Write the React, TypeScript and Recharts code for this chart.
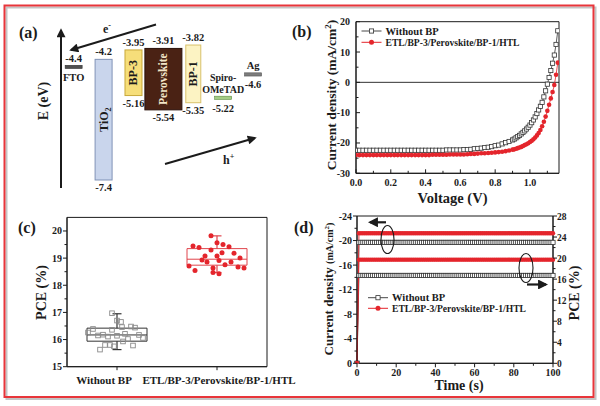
import React from "react";
import {
  ComposedChart,
  Bar,
  Line,
  Scatter,
  XAxis,
  YAxis,
  ReferenceArea,
  ReferenceLine,
} from "recharts";

const FONT = '"Liberation Serif", "Times New Roman", serif';
const INK = "#1b1b1b";
const RED = "#e4252c";
const GREY = "#333";

// (a) band alignment (eV)
const layers = ["FTO", "TiO2", "BP-3", "Perovskite", "BP-1", "Spiro-OMeTAD", "Ag"];
const cbEnergy = [null, -4.2, -3.95, -3.91, -3.82, null, null];
const vbEnergy = [null, -7.4, -5.16, -5.54, -5.35, null, null];
const workEnergy = [-4.4, null, null, null, null, -5.22, -4.6];

// (b) J-V curves
const voltage = [
  0, 0.02, 0.04, 0.06, 0.08, 0.1, 0.12, 0.14, 0.16, 0.18,
  0.2, 0.22, 0.24, 0.26, 0.28, 0.3, 0.32, 0.34, 0.36, 0.38,
  0.4, 0.42, 0.44, 0.46, 0.48, 0.5, 0.52, 0.54, 0.56, 0.58,
  0.6, 0.62, 0.64, 0.66, 0.68, 0.7, 0.72, 0.74, 0.76, 0.78,
  0.8, 0.82, 0.84, 0.86, 0.88, 0.9,
  0.91, 0.92, 0.93, 0.94, 0.95, 0.96, 0.97, 0.98, 0.99, 1.0,
  1.01, 1.02, 1.03, 1.04, 1.05, 1.06, 1.07, 1.08, 1.09, 1.1,
  1.11, 1.12, 1.13, 1.14, 1.15, 1.16,
];
const jvWithoutBp = [
  -22.4, -22.4, -22.4, -22.4, -22.4, -22.4, -22.4, -22.4, -22.4, -22.4,
  -22.4, -22.4, -22.4, -22.4, -22.4, -22.4, -22.4, -22.4, -22.4, -22.4,
  -22.4, -22.4, -22.4, -22.4, -22.4, -22.4, -22.3, -22.3, -22.3, -22.3,
  -22.3, -22.2, -22.2, -22.1, -21.9, -21.8, -21.7, -21.5, -21.4, -21.2,
  -20.9, -20.7, -20.3, -19.9, -19.5, -19.0,
  -18.7, -18.3, -17.9, -17.5, -17.0, -16.5, -16.0, -15.4, -14.8, -14.1,
  -13.3, -12.4, -11.4, -10.3, -9.1, -7.9, -6.6, -4.8, -2.8, -0.6,
  1.6, 3.9, 6.3, 9.0, 12.5, 17.0,
];
const jvWithBp = [
  -24.0, -24.0, -24.0, -24.0, -24.0, -24.0, -24.0, -24.0, -24.0, -24.0,
  -24.0, -24.0, -24.0, -24.0, -24.0, -24.0, -24.0, -24.0, -24.0, -24.0,
  -24.0, -24.0, -23.9, -23.9, -23.9, -23.9, -23.9, -23.8, -23.8, -23.8,
  -23.8, -23.8, -23.7, -23.6, -23.6, -23.5, -23.4, -23.4, -23.3, -23.2,
  -23.1, -23.0, -22.9, -22.7, -22.5, -22.2,
  -22.1, -21.9, -21.7, -21.5, -21.3, -21.0, -20.7, -20.4, -20.1, -19.7,
  -19.3, -18.8, -18.2, -17.5, -16.7, -15.7, -14.5, -13.0, -11.3, -9.4,
  -7.4, -5.3, -3.2, -0.9, 2.5, 6.5,
];

// (c) PCE statistics (x = group position incl. jitter)
const withoutBpX = [0.95, 1.0, 1.04, 1.05, 1.14, 1.18, 0.71, 0.76, 0.81, 0.86, 0.91, 0.95, 1.0, 1.08, 1.22, 1.26, 1.06, 1.11, 0.88, 0.93, 0.97, 1.16, 0.83];
const withoutBpPce = [16.97, 16.7, 16.65, 16.46, 16.48, 16.44, 16.26, 16.39, 16.15, 16.18, 16.11, 16.36, 16.14, 16.21, 16.17, 16.06, 15.93, 16.02, 15.8, 15.8, 15.75, 15.78, 15.63];
const withBpX = [1.94, 1.76, 1.82, 2.0, 2.06, 2.12, 1.94, 2.17, 1.88, 2.0, 2.05, 1.85, 1.9, 2.02, 2.14, 2.23, 2.08, 1.72, 1.78, 1.96, 2.21, 2.27, 1.96, 2.02];
const withBpPce = [19.82, 19.45, 19.39, 19.57, 19.5, 19.42, 19.3, 19.18, 19.08, 19.08, 19.2, 18.93, 18.86, 18.91, 18.86, 19.0, 18.76, 18.71, 18.54, 18.64, 18.67, 18.64, 18.47, 18.42];
const groupNames = ["Without BP", "ETL/BP-3/Perovskite/BP-1/HTL"];
const groupPos = [1, 2];
const boxQ1 = [15.94, 18.74];
const boxMedian = [16.17, 18.96];
const boxQ3 = [16.42, 19.35];
const whiskerLow = [15.63, 18.47];
const whiskerHigh = [16.95, 19.82];

// (d) steady-state output
const timeS = [
  0, 1, 2, 3, 4, 5, 6, 7, 8, 9, 10, 11, 12, 13, 14, 15, 16, 17, 18, 19, 20,
  21, 22, 23, 24, 25, 26, 27, 28, 29, 30, 31, 32, 33, 34, 35, 36, 37, 38, 39, 40,
  41, 42, 43, 44, 45, 46, 47, 48, 49, 50, 51, 52, 53, 54, 55, 56, 57, 58, 59, 60,
  61, 62, 63, 64, 65, 66, 67, 68, 69, 70, 71, 72, 73, 74, 75, 76, 77, 78, 79, 80,
  81, 82, 83, 84, 85, 86, 87, 88, 89, 90, 91, 92, 93, 94, 95, 96, 97, 98, 99, 100,
];
const jWithoutBp = [
  0, -19.7, -19.7, -19.7, -19.7, -19.7, -19.7, -19.7, -19.7, -19.7, -19.7, -19.7, -19.7, -19.7, -19.7, -19.7, -19.7, -19.7, -19.7, -19.7, -19.7,
  -19.7, -19.7, -19.7, -19.7, -19.7, -19.7, -19.7, -19.7, -19.7, -19.7, -19.7, -19.7, -19.7, -19.7, -19.7, -19.7, -19.7, -19.7, -19.7, -19.7,
  -19.7, -19.7, -19.7, -19.7, -19.7, -19.7, -19.7, -19.7, -19.7, -19.7, -19.7, -19.7, -19.7, -19.7, -19.7, -19.7, -19.7, -19.7, -19.7, -19.7,
  -19.7, -19.7, -19.7, -19.7, -19.7, -19.7, -19.7, -19.7, -19.7, -19.7, -19.7, -19.7, -19.7, -19.7, -19.7, -19.7, -19.7, -19.7, -19.7, -19.7,
  -19.7, -19.7, -19.7, -19.7, -19.7, -19.7, -19.7, -19.7, -19.7, -19.7, -19.7, -19.7, -19.7, -19.7, -19.7, -19.7, -19.7, -19.7, -19.7, -19.7,
];
const jWithBp = [
  0, -21.2, -21.2, -21.2, -21.2, -21.2, -21.2, -21.2, -21.2, -21.2, -21.2, -21.2, -21.2, -21.2, -21.2, -21.2, -21.2, -21.2, -21.2, -21.2, -21.2,
  -21.2, -21.2, -21.2, -21.2, -21.2, -21.2, -21.2, -21.2, -21.2, -21.2, -21.2, -21.2, -21.2, -21.2, -21.2, -21.2, -21.2, -21.2, -21.2, -21.2,
  -21.2, -21.2, -21.2, -21.2, -21.2, -21.2, -21.2, -21.2, -21.2, -21.2, -21.2, -21.2, -21.2, -21.2, -21.2, -21.2, -21.2, -21.2, -21.2, -21.2,
  -21.2, -21.2, -21.2, -21.2, -21.2, -21.2, -21.2, -21.2, -21.2, -21.2, -21.2, -21.2, -21.2, -21.2, -21.2, -21.2, -21.2, -21.2, -21.2, -21.2,
  -21.2, -21.2, -21.2, -21.2, -21.2, -21.2, -21.2, -21.2, -21.2, -21.2, -21.2, -21.2, -21.2, -21.2, -21.2, -21.2, -21.2, -21.2, -21.2, -21.2,
];
const pceWithoutBp = [
  0, 16.7, 16.7, 16.7, 16.7, 16.7, 16.7, 16.7, 16.7, 16.7, 16.7, 16.7, 16.7, 16.7, 16.7, 16.7, 16.7, 16.7, 16.7, 16.7, 16.7,
  16.7, 16.7, 16.7, 16.7, 16.7, 16.7, 16.7, 16.7, 16.7, 16.7, 16.7, 16.7, 16.7, 16.7, 16.7, 16.7, 16.7, 16.7, 16.7, 16.7,
  16.7, 16.7, 16.7, 16.7, 16.7, 16.7, 16.7, 16.7, 16.7, 16.7, 16.7, 16.7, 16.7, 16.7, 16.7, 16.7, 16.7, 16.7, 16.7, 16.7,
  16.7, 16.7, 16.7, 16.7, 16.7, 16.7, 16.7, 16.7, 16.7, 16.7, 16.7, 16.7, 16.7, 16.7, 16.7, 16.7, 16.7, 16.7, 16.7, 16.7,
  16.7, 16.7, 16.7, 16.7, 16.7, 16.7, 16.7, 16.7, 16.7, 16.7, 16.7, 16.7, 16.7, 16.7, 16.7, 16.7, 16.7, 16.7, 16.7, 16.7,
];
const pceWithBp = [
  0, 19.7, 19.7, 19.7, 19.7, 19.7, 19.7, 19.7, 19.7, 19.7, 19.7, 19.7, 19.7, 19.7, 19.7, 19.7, 19.7, 19.7, 19.7, 19.7, 19.7,
  19.7, 19.7, 19.7, 19.7, 19.7, 19.7, 19.7, 19.7, 19.7, 19.7, 19.7, 19.7, 19.7, 19.7, 19.7, 19.7, 19.7, 19.7, 19.7, 19.7,
  19.7, 19.7, 19.7, 19.7, 19.7, 19.7, 19.7, 19.7, 19.7, 19.7, 19.7, 19.7, 19.7, 19.7, 19.7, 19.7, 19.7, 19.7, 19.7, 19.7,
  19.7, 19.7, 19.7, 19.7, 19.7, 19.7, 19.7, 19.7, 19.7, 19.7, 19.7, 19.7, 19.7, 19.7, 19.7, 19.7, 19.7, 19.7, 19.7, 19.7,
  19.7, 19.7, 19.7, 19.7, 19.7, 19.7, 19.7, 19.7, 19.7, 19.7, 19.7, 19.7, 19.7, 19.7, 19.7, 19.7, 19.7, 19.7, 19.7, 19.7,
];

const bold = { fontFamily: FONT, fontWeight: 700, fill: INK } as const;
const tickFont = { ...bold, fontSize: 10 };

// looks for the band blocks / level bars of panel (a)
const bandStyle: Record<string, { w: number; fill: string; stroke: string; text: string }> = {
  TiO2: { w: 17, fill: "#c9d5ec", stroke: "#8093b6", text: INK },
  "BP-3": { w: 17, fill: "#f6de7a", stroke: "#c8a83a", text: INK },
  Perovskite: { w: 37, fill: "#4a2214", stroke: "#2a110a", text: "#f3e6c9" },
  "BP-1": { w: 15, fill: "#fcf3c3", stroke: "#d8c16b", text: INK },
};
const levelStyle: Record<string, { w: number; fill: string; stroke: string; above: string[]; below: string[] }> = {
  FTO: { w: 17, fill: "#505050", stroke: "#333", above: ["$v"], below: ["FTO"] },
  "Spiro-OMeTAD": { w: 17, fill: "#a3cc86", stroke: "#5e8c44", above: ["Spiro-", "OMeTAD"], below: ["$v"] },
  Ag: { w: 17, fill: "#7c7c7c", stroke: "#555", above: ["Ag"], below: ["$v"] },
};

const bandData = layers.map((name, i) => ({
  name,
  cb: cbEnergy[i],
  vb: vbEnergy[i],
  band: cbEnergy[i] == null ? null : [vbEnergy[i], cbEnergy[i]],
  level: workEnergy[i],
}));

const jvData = voltage.map((v, i) => ({ v, without: jvWithoutBp[i], withBp: jvWithBp[i] }));
const pceWithoutPts = withoutBpX.map((x, i) => ({ x, pce: withoutBpPce[i] }));
const pceWithPts = withBpX.map((x, i) => ({ x, pce: withBpPce[i] }));
const stabilityData = timeS.map((t, i) => ({
  t,
  jWithout: jWithoutBp[i],
  jWith: jWithBp[i],
  pWithout: pceWithoutBp[i],
  pWith: pceWithBp[i],
}));

function BandShape(p: any) {
  const { x, y, width, height, payload } = p;
  const st = bandStyle[payload?.name];
  if (!st || payload.band == null) return <g />;
  const cx = x + width / 2;
  const top = Math.min(y, y + height);
  const h = Math.abs(height);
  return (
    <g>
      <rect x={cx - st.w / 2} y={top} width={st.w} height={h} fill={st.fill} stroke={st.stroke} strokeWidth={1} />
      <text x={cx} y={top - 4} textAnchor="middle" style={{ ...bold, fontSize: 10.5 }}>{String(payload.cb)}</text>
      <text x={cx} y={top + h + 11} textAnchor="middle" style={{ ...bold, fontSize: 10.5 }}>{String(payload.vb)}</text>
      <text
        transform={`translate(${cx + 4},${top + h / 2}) rotate(-90)`}
        textAnchor="middle"
        style={{ ...bold, fill: st.text, fontSize: payload.name === "Perovskite" ? 11.5 : 12 }}
      >
        {payload.name === "TiO2" ? (
          <>
            TiO<tspan fontSize={8} dy={3}>2</tspan>
          </>
        ) : (
          payload.name
        )}
      </text>
    </g>
  );
}

function LevelDot(p: any) {
  const { cx, cy, payload, index } = p;
  const st = levelStyle[payload?.name];
  if (!st || payload.level == null || cy == null) return <g key={`lv-${index}`} />;
  const txt = (s: string) => (s === "$v" ? String(payload.level) : s);
  const small = payload.name === "Spiro-OMeTAD" ? 10 : 10.5;
  return (
    <g key={`lv-${index}`}>
      <rect x={cx - st.w / 2} y={cy - 1.6} width={st.w} height={3.2} fill={st.fill} stroke={st.stroke} strokeWidth={0.6} />
      {st.above.map((s, k) => (
        <text key={`a${k}`} x={cx} y={cy - 5 - (st.above.length - 1 - k) * 12} textAnchor="middle" style={{ ...bold, fontSize: small }}>
          {txt(s)}
        </text>
      ))}
      {st.below.map((s, k) => (
        <text key={`b${k}`} x={cx} y={cy + 14 + k * 12} textAnchor="middle" style={{ ...bold, fontSize: 10.5 }}>
          {txt(s)}
        </text>
      ))}
    </g>
  );
}

type TickOpts = { labelled: (v: number) => boolean; fmt: (v: number) => string; inward?: boolean };

const bottomTick = (o: TickOpts) => (p: any) => {
  const v = p.payload.value;
  const major = o.labelled(v);
  const len = major ? 4 : 2.5;
  return (
    <g>
      <line x1={p.x} x2={p.x} y1={p.y} y2={p.y + (o.inward ? -len : len)} stroke={INK} />
      {major && (
        <text x={p.x} y={p.y + 13} textAnchor="middle" style={tickFont}>
          {o.fmt(v)}
        </text>
      )}
    </g>
  );
};

const leftTick = (o: TickOpts) => (p: any) => {
  const v = p.payload.value;
  const major = o.labelled(v);
  const len = major ? 4 : 2.5;
  return (
    <g>
      <line x1={p.x} x2={p.x + (o.inward ? len : -len)} y1={p.y} y2={p.y} stroke={INK} />
      {major && (
        <text x={p.x - (o.inward ? 6 : 5)} y={p.y + 3.5} textAnchor="end" style={tickFont}>
          {o.fmt(v)}
        </text>
      )}
    </g>
  );
};

const rightTick = (o: TickOpts) => (p: any) => {
  const v = p.payload.value;
  const major = o.labelled(v);
  const len = major ? 4 : 2.5;
  return (
    <g>
      <line x1={p.x} x2={p.x + len} y1={p.y} y2={p.y} stroke={INK} />
      {major && (
        <text x={p.x + 4} y={p.y + 3.5} textAnchor="start" style={{ ...tickFont, fontSize: 9.5 }}>
          {o.fmt(v)}
        </text>
      )}
    </g>
  );
};

const groupTick = (p: any) => {
  const i = groupPos.indexOf(p.payload.value);
  const dx = i === 0 ? -13 : 2;
  return (
    <g>
      <line x1={p.x} x2={p.x} y1={p.y} y2={p.y + 3.5} stroke={INK} />
      <text x={p.x + dx} y={p.y + 17} textAnchor="middle" style={{ ...bold, fontSize: 11 }}>
        {groupNames[i]}
      </text>
    </g>
  );
};

const squareDot = (stroke: string) => (p: any) =>
  p.cx == null || p.cy == null ? (
    <g key={`s-${p.index}`} />
  ) : (
    <rect key={`s-${p.index}`} x={p.cx - 2.1} y={p.cy - 2.1} width={4.2} height={4.2} fill="#fff" stroke={stroke} strokeWidth={0.8} />
  );

const roundDot = (fill: string, r: number) => (p: any) =>
  p.cx == null || p.cy == null ? <g key={`c-${p.index}`} /> : <circle key={`c-${p.index}`} cx={p.cx} cy={p.cy} r={r} fill={fill} />;

function EnergyPanel() {
  return (
    <ComposedChart width={300} height={200} data={bandData} margin={{ top: 29.2, right: 32, bottom: 8.7, left: 58.7 }}>
      <XAxis dataKey="name" type="category" hide />
      <YAxis type="number" domain={[-7.7, -3.4]} allowDataOverflow hide />
      <Bar dataKey="band" shape={BandShape} isAnimationActive={false} />
      <Line dataKey="level" stroke="none" dot={LevelDot} activeDot={false} isAnimationActive={false} />
    </ComposedChart>
  );
}

function JVPanel() {
  return (
    <ComposedChart width={300} height={200} data={jvData} margin={{ top: 21.7, right: 41, bottom: 0, left: 16 }}>
      <XAxis
        dataKey="v"
        type="number"
        domain={[0, 1.167]}
        allowDataOverflow
        ticks={[0, 0.1, 0.2, 0.3, 0.4, 0.5, 0.6, 0.7, 0.8, 0.9, 1.0, 1.1]}
        interval={0}
        height={26.7}
        tickSize={0}
        tickMargin={0}
        tickLine={false}
        axisLine={{ stroke: INK }}
        tick={bottomTick({ labelled: (v) => Math.round(v * 10) % 2 === 0, fmt: (v) => v.toFixed(1), inward: true })}
      />
      <YAxis
        type="number"
        domain={[-30, 20]}
        allowDataOverflow
        ticks={[-30, -25, -20, -15, -10, -5, 0, 5, 10, 15, 20]}
        interval={0}
        width={40}
        tickSize={0}
        tickMargin={0}
        tickLine={false}
        axisLine={{ stroke: INK }}
        tick={leftTick({ labelled: (v) => v % 10 === 0, fmt: (v) => String(v), inward: true })}
      />
      <ReferenceArea x1={0} x2={1.167} y1={-30} y2={20} fill="none" stroke={INK} strokeWidth={1} />
      <ReferenceLine y={0} stroke={INK} strokeWidth={0.9} />
      <Line dataKey="without" stroke={GREY} strokeWidth={0.8} dot={squareDot(GREY)} activeDot={false} isAnimationActive={false} />
      <Line dataKey="withBp" stroke={RED} strokeWidth={0.8} dot={roundDot(RED, 2.3)} activeDot={false} isAnimationActive={false} />
    </ComposedChart>
  );
}

function BoxPanel() {
  const halfW = 0.3;
  const cap = 0.045;
  const boxColor = [GREY, "#e0444c"];
  return (
    <ComposedChart width={300} height={206} margin={{ top: 17.4, right: 33, bottom: 9.3, left: 30 }}>
      <XAxis
        dataKey="x"
        type="number"
        domain={[0.5, 2.5]}
        allowDataOverflow
        ticks={groupPos}
        interval={0}
        height={30}
        tickSize={0}
        tickMargin={0}
        tickLine={false}
        axisLine={{ stroke: INK }}
        tick={groupTick}
      />
      <YAxis
        dataKey="pce"
        type="number"
        domain={[15, 20.5]}
        allowDataOverflow
        ticks={[15, 15.5, 16, 16.5, 17, 17.5, 18, 18.5, 19, 19.5, 20]}
        interval={0}
        width={37}
        tickSize={0}
        tickMargin={0}
        tickLine={false}
        axisLine={{ stroke: INK }}
        tick={leftTick({ labelled: (v) => Number.isInteger(v), fmt: (v) => String(v) })}
      />
      <ReferenceArea x1={0.5} x2={2.5} y1={15} y2={20.5} fill="none" stroke={INK} strokeWidth={1} />
      {groupPos.map((g, i) => (
        <ReferenceArea key={`box${i}`} x1={g - halfW} x2={g + halfW} y1={boxQ1[i]} y2={boxQ3[i]} fill="none" stroke={boxColor[i]} strokeWidth={1} ifOverflow="visible" />
      ))}
      {groupPos.map((g, i) => (
        <ReferenceLine key={`med${i}`} segment={[{ x: g - halfW, y: boxMedian[i] }, { x: g + halfW, y: boxMedian[i] }]} stroke={boxColor[i]} strokeWidth={1} />
      ))}
      {groupPos.map((g, i) => (
        <ReferenceLine key={`wh${i}`} segment={[{ x: g, y: boxQ3[i] }, { x: g, y: whiskerHigh[i] }]} stroke={boxColor[i]} strokeWidth={1.2} />
      ))}
      {groupPos.map((g, i) => (
        <ReferenceLine key={`wl${i}`} segment={[{ x: g, y: boxQ1[i] }, { x: g, y: whiskerLow[i] }]} stroke={boxColor[i]} strokeWidth={1.2} />
      ))}
      {groupPos.map((g, i) => (
        <ReferenceLine key={`ch${i}`} segment={[{ x: g - cap, y: whiskerHigh[i] }, { x: g + cap, y: whiskerHigh[i] }]} stroke={boxColor[i]} strokeWidth={1.2} />
      ))}
      {groupPos.map((g, i) => (
        <ReferenceLine key={`cl${i}`} segment={[{ x: g - cap, y: whiskerLow[i] }, { x: g + cap, y: whiskerLow[i] }]} stroke={boxColor[i]} strokeWidth={1.2} />
      ))}
      <Scatter
        data={pceWithoutPts}
        isAnimationActive={false}
        shape={(p: any) => <rect x={p.cx - 2.3} y={p.cy - 2.3} width={4.6} height={4.6} fill="none" stroke="#8a8a8a" strokeWidth={0.9} />}
      />
      <Scatter data={pceWithPts} isAnimationActive={false} shape={(p: any) => <circle cx={p.cx} cy={p.cy} r={2.5} fill={RED} />} />
    </ComposedChart>
  );
}

function StabilityPanel() {
  return (
    <ComposedChart width={300} height={206} data={stabilityData} margin={{ top: 16, right: 7, bottom: 12.7, left: 17 }}>
      <XAxis
        dataKey="t"
        type="number"
        domain={[0, 100]}
        ticks={[0, 10, 20, 30, 40, 50, 60, 70, 80, 90, 100]}
        interval={0}
        height={30}
        tickSize={0}
        tickMargin={0}
        tickLine={false}
        axisLine={{ stroke: INK }}
        tick={bottomTick({ labelled: (v) => v % 20 === 0, fmt: (v) => String(v) })}
      />
      <YAxis
        yAxisId="j"
        type="number"
        domain={[-24, 0]}
        reversed
        allowDataOverflow
        ticks={[-24, -22, -20, -18, -16, -14, -12, -10, -8, -6, -4, -2, 0]}
        interval={0}
        width={40}
        tickSize={0}
        tickMargin={0}
        tickLine={false}
        axisLine={{ stroke: INK }}
        tick={leftTick({ labelled: (v) => v % 4 === 0, fmt: (v) => (v === 0 ? "0" : String(v)) })}
      />
      <YAxis
        yAxisId="p"
        orientation="right"
        type="number"
        domain={[0, 28]}
        allowDataOverflow
        ticks={[0, 2, 4, 6, 8, 10, 12, 14, 16, 18, 20, 22, 24, 26, 28]}
        interval={0}
        width={40}
        tickSize={0}
        tickMargin={0}
        tickLine={false}
        axisLine={{ stroke: INK }}
        tick={rightTick({ labelled: (v) => v % 4 === 0, fmt: (v) => String(v) })}
      />
      <ReferenceArea yAxisId="j" x1={0} x2={100} y1={-24} y2={0} fill="none" stroke={INK} strokeWidth={1} />
      <Line yAxisId="j" dataKey="jWithout" stroke={GREY} strokeWidth={0.8} dot={squareDot(GREY)} activeDot={false} isAnimationActive={false} />
      <Line yAxisId="p" dataKey="pWithout" stroke={GREY} strokeWidth={0.8} dot={squareDot(GREY)} activeDot={false} isAnimationActive={false} />
      <Line yAxisId="j" dataKey="jWith" stroke={RED} strokeWidth={0.9} dot={roundDot(RED, 2.2)} activeDot={false} isAnimationActive={false} />
      <Line yAxisId="p" dataKey="pWith" stroke={RED} strokeWidth={0.9} dot={roundDot(RED, 2.2)} activeDot={false} isAnimationActive={false} />
    </ComposedChart>
  );
}

function LegendRows({ x, y, gap }: { x: number; y: number; gap: number }) {
  return (
    <g>
      <line x1={x} x2={x + 20} y1={y} y2={y} stroke={GREY} strokeWidth={0.9} />
      <rect x={x + 7.9} y={y - 2.1} width={4.2} height={4.2} fill="#fff" stroke={GREY} strokeWidth={0.8} />
      <text x={x + 24} y={y + 3.6} style={{ ...bold, fontSize: 10.5 }}>Without BP</text>
      <line x1={x} x2={x + 20} y1={y + gap} y2={y + gap} stroke={RED} strokeWidth={1} />
      <circle cx={x + 10} cy={y + gap} r={2.5} fill={RED} />
      <text x={x + 24} y={y + gap + 3.6} style={{ ...bold, fontSize: 10.5 }} textLength={134} lengthAdjust="spacingAndGlyphs">
        ETL/BP-3/Perovskite/BP-1/HTL
      </text>
    </g>
  );
}

function Overlay() {
  return (
    <svg width={600} height={406} style={{ position: "absolute", left: 0, top: 0, pointerEvents: "none" }}>
      <defs>
        <marker id="head" viewBox="0 0 10 10" refX="8" refY="5" markerWidth="5" markerHeight="4.5" orient="auto">
          <path d="M0,0 L10,5 L0,10 z" fill={INK} />
        </marker>
      </defs>
      <rect x={6.5} y={7.5} width={589} height={391.5} fill="none" stroke="#c4c4c4" strokeWidth={2} />
      <rect x={4.5} y={5.5} width={589} height={391.5} fill="none" stroke="#e8353a" strokeWidth={2} />

      {/* panel tags */}
      <text x={19} y={38} style={{ ...bold, fontSize: 16 }}>(a)</text>
      <text x={292} y={37} style={{ ...bold, fontSize: 16 }}>(b)</text>
      <text x={18} y={233} style={{ ...bold, fontSize: 16 }}>(c)</text>
      <text x={294} y={233} style={{ ...bold, fontSize: 16 }}>(d)</text>

      {/* (a) axis + carrier arrows */}
      <line x1={61} y1={188} x2={61} y2={30} stroke={INK} strokeWidth={2} markerEnd="url(#head)" />
      <text transform="translate(48,101) rotate(-90)" textAnchor="middle" style={{ ...bold, fontSize: 14 }}>E (eV)</text>
      <line x1={156} y1={24.5} x2={71} y2={50} stroke={INK} strokeWidth={2} markerEnd="url(#head)" />
      <text x={103} y={33} style={{ ...bold, fontSize: 12 }}>e<tspan fontSize={8} dy={-5}>-</tspan></text>
      <line x1={165} y1={164} x2={255} y2={138} stroke={INK} strokeWidth={2} markerEnd="url(#head)" />
      <text x={223} y={164} style={{ ...bold, fontSize: 12 }}>h<tspan fontSize={8} dy={-5}>+</tspan></text>

      {/* (b) titles and legend */}
      <text transform="translate(335.5,95) rotate(-90)" textAnchor="middle" style={{ ...bold, fontSize: 13.5 }}>
        Current density (mA/cm<tspan fontSize={9} dy={-5}>2</tspan><tspan dy={5}>)</tspan>
      </text>
      <text x={452.5} y={203} textAnchor="middle" style={{ ...bold, fontSize: 14.5 }}>Voltage (V)</text>
      <LegendRows x={361.5} y={31} gap={11.3} />

      {/* (c) titles */}
      <text transform="translate(46,292.5) rotate(-90)" textAnchor="middle" style={{ ...bold, fontSize: 14 }}>PCE (%)</text>

      {/* (d) titles, legend, guides */}
      <text transform="translate(333,289) rotate(-90)" textAnchor="middle" style={{ ...bold, fontSize: 13 }}>
        Current density <tspan fontSize={10}>(mA/cm</tspan><tspan fontSize={7} dy={-4}>2</tspan><tspan fontSize={10} dy={4}>)</tspan>
      </text>
      <text transform="translate(579,293) rotate(-90)" textAnchor="middle" style={{ ...bold, fontSize: 14 }}>PCE (%)</text>
      <text x={459} y={390} textAnchor="middle" style={{ ...bold, fontSize: 14 }}>Time (s)</text>
      <LegendRows x={368} y={297.7} gap={10.6} />
      <ellipse cx={387.5} cy={239.5} rx={6.5} ry={14} fill="none" stroke={INK} strokeWidth={1.1} />
      <line x1={386} y1={222.3} x2={370} y2={222.3} stroke={INK} strokeWidth={2.2} markerEnd="url(#head)" />
      <ellipse cx={526} cy={268} rx={7} ry={14.5} fill="none" stroke={INK} strokeWidth={1.1} />
      <line x1={527} y1={284.5} x2={546} y2={284.5} stroke={INK} strokeWidth={2.2} markerEnd="url(#head)" />
    </svg>
  );
}

export default function App() {
  return (
    <div style={{ position: "absolute", left: 0, top: 0, width: 600, height: 406, background: "#fff", overflow: "hidden" }}>
      <div style={{ position: "absolute", left: 0, top: 0 }}>
        <EnergyPanel />
      </div>
      <div style={{ position: "absolute", left: 300, top: 0 }}>
        <JVPanel />
      </div>
      <div style={{ position: "absolute", left: 0, top: 200 }}>
        <BoxPanel />
      </div>
      <div style={{ position: "absolute", left: 300, top: 200 }}>
        <StabilityPanel />
      </div>
      <Overlay />
    </div>
  );
}
